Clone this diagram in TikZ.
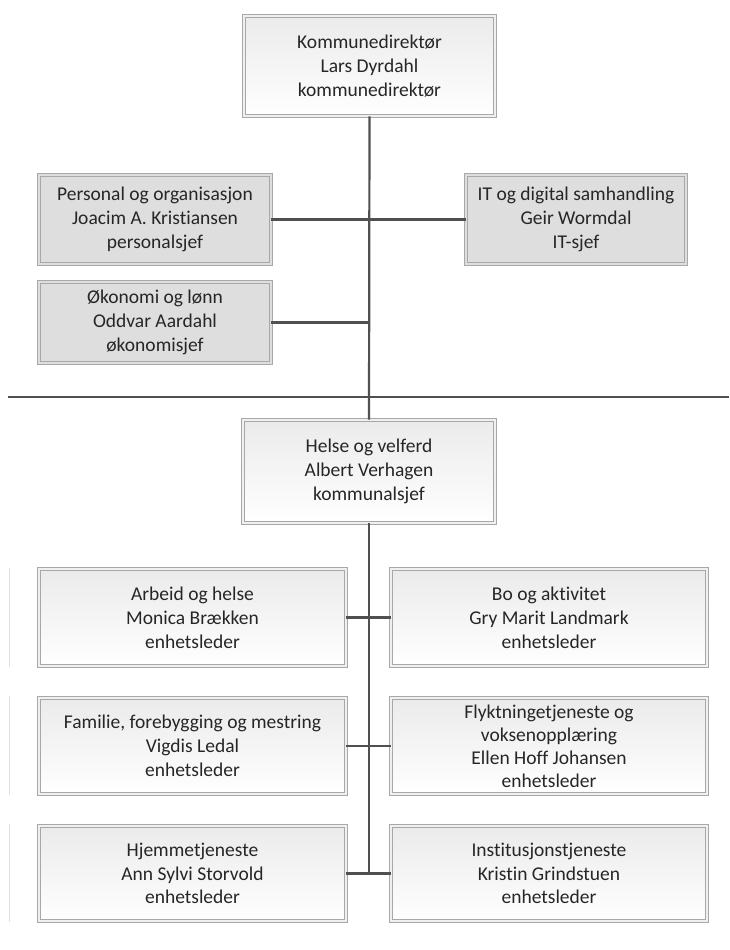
\documentclass[tikz,border=0pt]{standalone}
\usepackage{fontspec}
\setmainfont{Carlito}[RawFeature=-liga]
\usetikzlibrary{shadows,calc}
\definecolor{txt}{HTML}{262626}
\definecolor{linec}{HTML}{505050}
\definecolor{bord}{HTML}{A8A8A8}
\definecolor{grayfill}{HTML}{DEDEDE}
\tikzset{
  orgbox/.style={draw=bord, line width=0.9pt, double distance=2.4pt,
    align=center, text=txt, inner sep=2pt,
    font=\fontsize{19.5}{23.8}\selectfont,
    drop shadow={shadow xshift=1.5pt, shadow yshift=-1.8pt, fill=black, opacity=0.12}},
  whitebox/.style={orgbox, double=black!6, top color=black!8, bottom color=white},
  graybox/.style={orgbox, double=grayfill, fill=grayfill},
  conn/.style={draw=linec, line width=2.2pt},
  sepline/.style={draw=linec, line width=1.6pt},
  faint/.style={draw=black!12, line width=1pt}
}
\begin{document}
\begin{tikzpicture}[x=1pt,y=-1pt]
\useasboundingbox (0,0) rectangle (729,950);
% boxes
\node[whitebox, minimum width=251pt, minimum height=100pt] (top) at (369.5,66)
  {Kommunedirektør\\Lars Dyrdahl\\kommunedirektør};
\node[graybox, minimum width=232pt, minimum height=89pt] (pers) at (155,219.5)
  {Personal og organisasjon\\Joacim A. Kristiansen\\personalsjef};
\node[graybox, minimum width=232pt, minimum height=81pt] (oko) at (155,322.5)
  {Økonomi og lønn\\Oddvar Aardahl\\økonomisjef};
\node[graybox, minimum width=220pt, minimum height=89pt] (it) at (576,219.5)
  {IT og digital samhandling\\Geir Wormdal\\IT-sjef};
\node[whitebox, minimum width=252pt, minimum height=103pt] (helse) at (369,471.5)
  {Helse og velferd\\Albert Verhagen\\kommunalsjef};
\node[whitebox, minimum width=307pt, minimum height=97pt] (l1) at (192.5,617.5)
  {Arbeid og helse\\Monica Brækken\\enhetsleder};
\node[whitebox, minimum width=316pt, minimum height=97pt] (r1) at (549,617.5)
  {Bo og aktivitet\\Gry Marit Landmark\\enhetsleder};
\node[whitebox, minimum width=307pt, minimum height=96pt] (l2) at (192.5,746)
  {Familie, forebygging og mestring\\Vigdis Ledal\\enhetsleder};
\node[whitebox, minimum width=316pt, minimum height=96pt, inner sep=0pt,
  font=\fontsize{19.5}{23}\selectfont] (r2) at (549,746)
  {Flyktningetjeneste og\\voksenopplæring\\Ellen Hoff Johansen\\enhetsleder};
\node[whitebox, minimum width=307pt, minimum height=95pt] (l3) at (192.5,873.5)
  {Hjemmetjeneste\\Ann Sylvi Storvold\\enhetsleder};
\node[whitebox, minimum width=316pt, minimum height=95pt] (r3) at (549,873.5)
  {Institusjonstjeneste\\Kristin Grindstuen\\enhetsleder};
% separator line
\coordinate (sepL) at (8,397);
\coordinate (sepR) at (729,397);
\draw[sepline] (sepL) -- (sepR);
% faint marks at left
\coordinate (f1a) at (9,568); \coordinate (f1b) at (9,667);
\coordinate (f2a) at (9,696); \coordinate (f2b) at (9,795);
\coordinate (f3a) at (9,824); \coordinate (f3b) at (9,922);
\draw[faint] (f1a) -- (f1b);
\draw[faint] (f2a) -- (f2b);
\draw[faint] (f3a) -- (f3b);
% connectors
\draw[conn] (top.south) -- (helse.north);
\draw[conn] (pers.east) -- (it.west);
\draw[conn] (oko.east) -- (oko.east -| top.south);
\draw[conn] (helse.south) -- (helse.south |- l3.east);
\draw[conn] (l1.east) -- (r1.west);
\draw[conn] (l2.east) -- (r2.west);
\draw[conn] (l3.east) -- (r3.west);
\end{tikzpicture}
\end{document}
